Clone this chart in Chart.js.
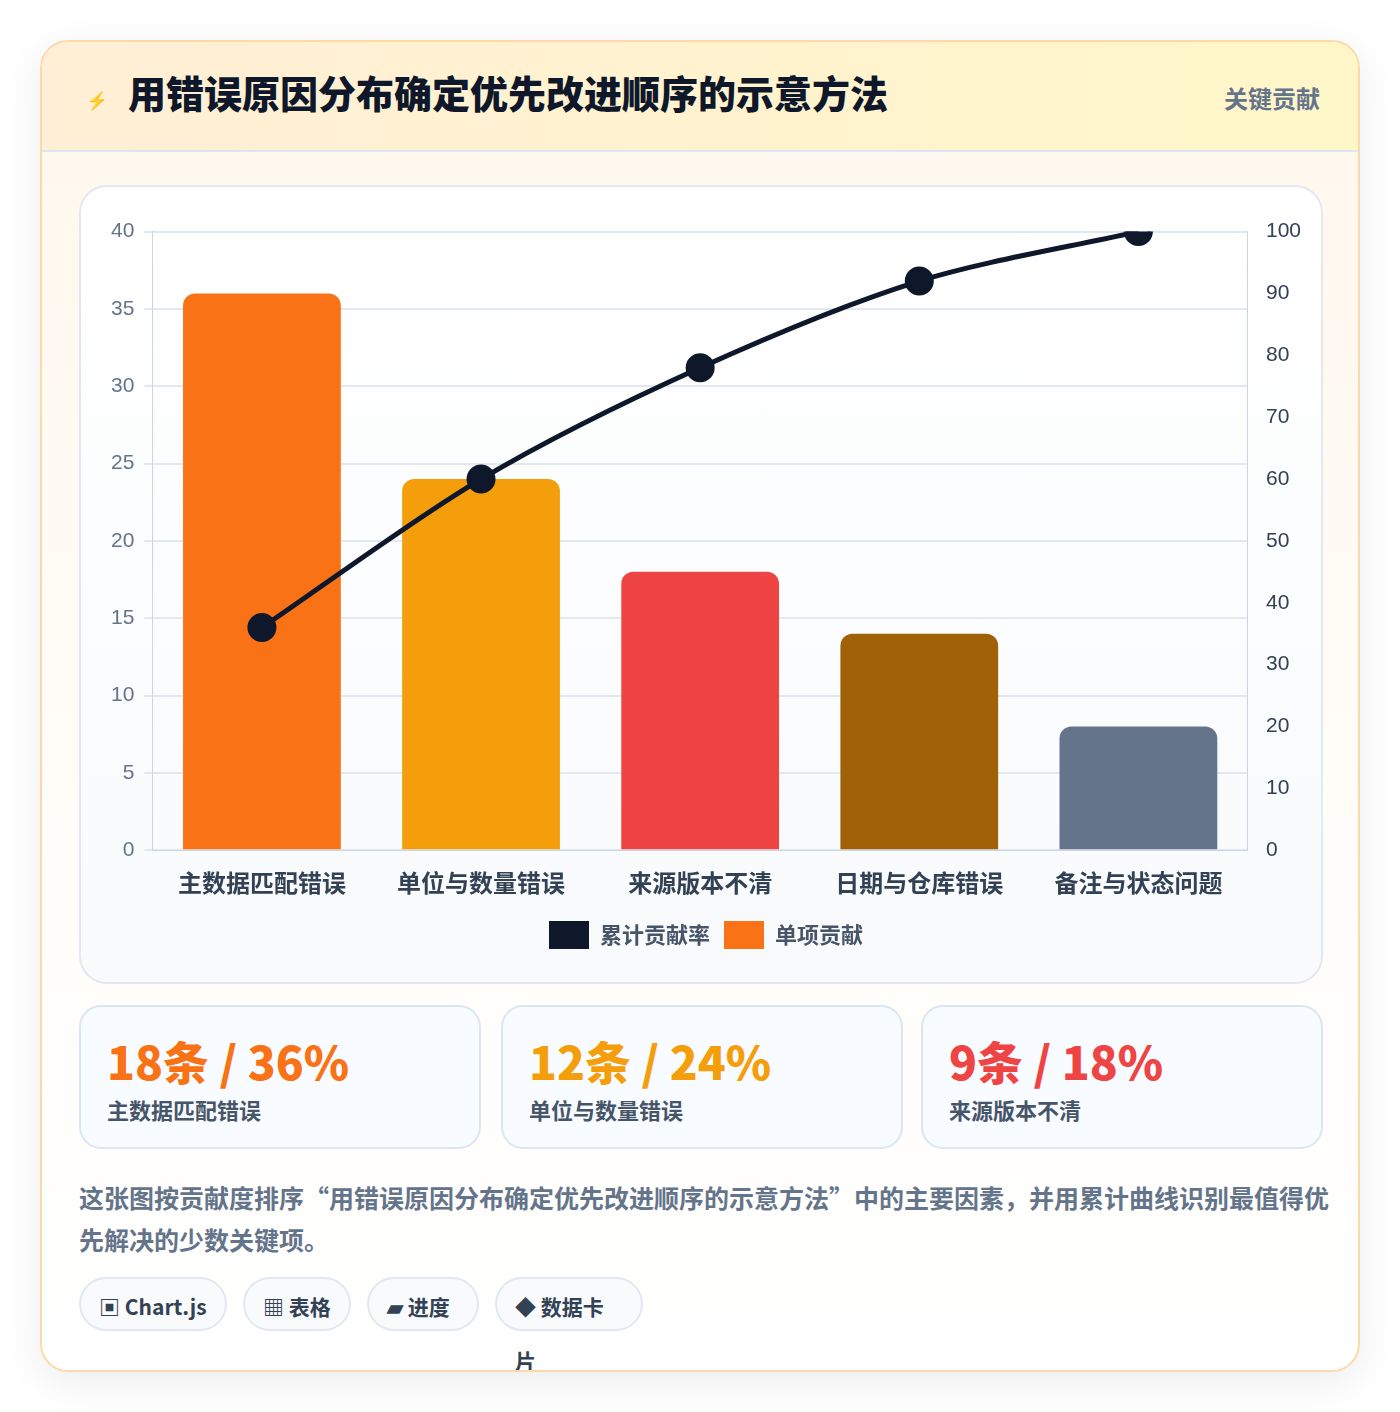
<!DOCTYPE html>
<html><head><meta charset="utf-8">
<script src="https://cdn.jsdelivr.net/npm/chart.js@4/dist/chart.umd.min.js"></script>
<style>
body{margin:0;background:#fff;font-family:"Noto Sans CJK SC","Noto Sans",sans-serif;}
.card{position:absolute;left:40px;top:40px;width:1316px;height:1328px;border:2px solid #fcd9a8;border-radius:28px;background:linear-gradient(180deg,#fff7ec 0%,#fffdf9 60%,#fff 100%);box-shadow:0 10px 40px rgba(0,0,0,0.08);overflow:hidden;}
.head{height:108px;border-bottom:2px solid #dbe6f5;background:linear-gradient(90deg,#ffefd6,#fff6c8);position:relative;}
.head .ic{position:absolute;left:44px;top:44px;color:#2563eb;font-size:18px;}
.head h1{position:absolute;left:86px;top:22px;margin:0;font-size:38px;font-weight:900;color:#0f172a;}
.head .r{position:absolute;right:38px;top:38px;font-size:24px;font-weight:700;color:#64748b;}
.box{position:absolute;left:37px;top:143px;width:1240px;height:795px;border:2px solid #e2e8f0;border-radius:28px;background:linear-gradient(180deg,#fff,#f8fafc);}
.cw{position:absolute;left:20px;top:22px;width:1210px;height:760px;}
.stat{position:absolute;top:963px;width:398px;height:140px;border:2px solid #dbe6f5;border-radius:22px;background:#f8fbff;}
.stat .v{position:absolute;left:26px;top:20px;font-size:46px;font-weight:900;}
.stat .l{position:absolute;left:26px;top:86px;font-size:22px;font-weight:700;color:#475569;}
.desc{position:absolute;left:37px;top:1134px;width:1250px;font-size:25px;font-weight:700;color:#64748b;line-height:42px;}
.chip{position:absolute;top:1235px;height:54px;border:2px solid #e2e8f0;border-radius:28px;background:#f8fafc;font-size:21px;font-weight:700;color:#334155;line-height:54px;padding:0 18px;box-sizing:border-box;}
</style></head><body>
<div class="card">
 <div class="head"><span class="ic">⚡</span><h1>用错误原因分布确定优先改进顺序的示意方法</h1><span class="r">关键贡献</span></div>
 <div class="box"><div class="cw"><canvas id="c"></canvas></div></div>
 <div class="stat" style="left:37px"><div class="v" style="color:#f97316">18条 / 36%</div><div class="l">主数据匹配错误</div></div>
 <div class="stat" style="left:459px"><div class="v" style="color:#f59e0b">12条 / 24%</div><div class="l">单位与数量错误</div></div>
 <div class="stat" style="left:879px"><div class="v" style="color:#ef4444">9条 / 18%</div><div class="l">来源版本不清</div></div>
 <div class="desc">这张图按贡献度排序“用错误原因分布确定优先改进顺序的示意方法”中的主要因素，并用累计曲线识别最值得优先解决的少数关键项。</div>
 <div class="chip" style="left:37px;width:148px">▣ Chart.js</div>
 <div class="chip" style="left:201px;width:108px">▦ 表格</div>
 <div class="chip" style="left:325px;width:112px">▰ 进度</div>
 <div class="chip" style="left:453px;width:148px">◆ 数据卡片</div>
</div>
<script>
const categories=["主数据匹配错误","单位与数量错误","来源版本不清","日期与仓库错误","备注与状态问题"];
const contribution=[36,24,18,14,8];
const cumulative=[36,60,78,92,100];
const barColors=["#f97316","#f59e0b","#ef4444","#a16207","#64748b"];
new Chart(document.getElementById('c'),{
 data:{labels:categories,datasets:[
  {type:'line',label:'累计贡献率',data:cumulative,yAxisID:'y1',borderColor:'#0f172a',backgroundColor:'#0f172a',borderWidth:5,pointRadius:12,pointHoverRadius:12,tension:0.3,order:0},
  {type:'bar',label:'单项贡献',data:contribution,yAxisID:'y',backgroundColor:barColors,borderRadius:{topLeft:12,topRight:12},borderSkipped:'bottom',order:1}
 ]},
 options:{responsive:true,maintainAspectRatio:false,animation:false,
  layout:{padding:{left:0,right:0,top:0,bottom:10}},
  plugins:{legend:{position:'bottom',labels:{boxWidth:40,boxHeight:28,padding:14,color:'#475569',font:{size:22,weight:'bold',family:'"Noto Sans CJK SC"'},
    generateLabels:(ch)=>ch.data.datasets.map((d,i)=>({text:d.label,fillStyle:i==0?'#0f172a':'#f97316',strokeStyle:i==0?'#0f172a':'#f97316',lineWidth:0,datasetIndex:i,fontColor:'#475569'}))}},
   tooltip:{enabled:false}},
  scales:{
   x:{grid:{display:false},border:{color:'#cbd5e1'},ticks:{color:'#334155',font:{size:24,weight:'bold',family:'"Noto Sans CJK SC"'},padding:10}},
   y:{min:0,max:40,ticks:{stepSize:5,color:'#64748b',font:{size:21},padding:10},grid:{color:'#e2e8f0',lineWidth:2},border:{color:'#cbd5e1'}},
   y1:{position:'right',min:0,max:100,ticks:{stepSize:10,color:'#334155',font:{size:21},padding:10},grid:{display:false},border:{color:'#cbd5e1'}}
  }}
});
</script></body></html>
